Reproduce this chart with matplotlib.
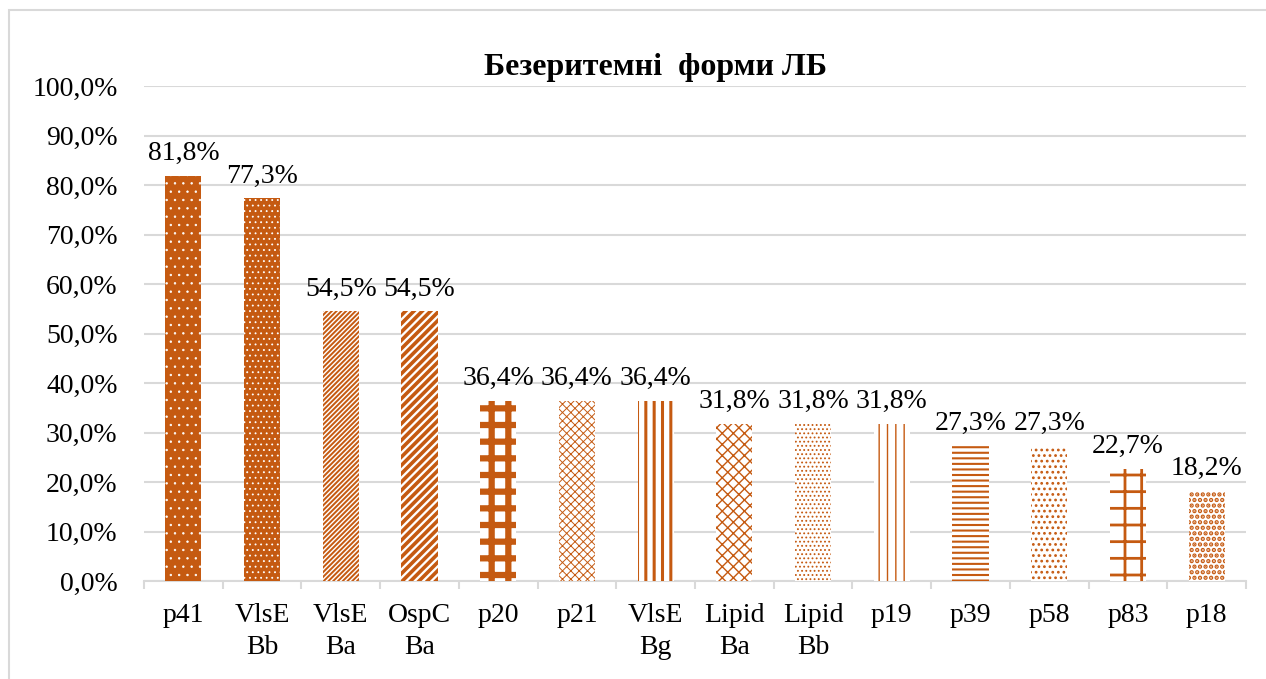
import matplotlib
matplotlib.use("Agg")
import matplotlib.pyplot as plt
from matplotlib.patches import Rectangle
import matplotlib as mpl

categories = ["p41", "VlsE\nBb", "VlsE\nBa", "OspC\nBa", "p20", "p21", "VlsE\nBg",
              "Lipid\nBa", "Lipid\nBb", "p19", "p39", "p58", "p83", "p18"]
values = [81.8, 77.3, 54.5, 54.5, 36.4, 36.4, 36.4, 31.8, 31.8, 31.8, 27.3, 27.3, 22.7, 18.2]
title = "Безеритемні  форми ЛБ"
yticks = [0, 10, 20, 30, 40, 50, 60, 70, 80, 90, 100]

ORANGE = "#C55A11"
GRID = "#D9D9D9"
# (facecolor, hatchcolor, hatch, hatch linewidth)
styles = [
    (ORANGE, "white", "..", 0.5),
    (ORANGE, "white", "...", 0.6),
    ("white", ORANGE, "///////", 1.4),
    ("white", ORANGE, "////", 2.6),
    ("white", ORANGE, "+", 4.5),
    ("white", ORANGE, "xxxx", 0.7),
    ("white", ORANGE, "||", 2.2),
    ("white", ORANGE, "xxx", 1.0),
    ("white", ORANGE, "....", 0.8),
    ("white", ORANGE, "||", 1.0),
    ("white", ORANGE, "---", 1.5),
    ("white", ORANGE, "...", 1.2),
    ("white", ORANGE, "+", 2.0),
    ("white", ORANGE, "...", 2.2),
]

plt.rcParams["font.family"] = ["Liberation Serif", "DejaVu Serif"]

W, H = 1266, 679
fig = plt.figure(figsize=(W / 100, H / 100), dpi=100)
ax = fig.add_axes([144 / W, 1 - 581 / H, (1246 - 144) / W, (581 - 86) / H])

x = list(range(len(categories)))
for i, (v, st) in enumerate(zip(values, styles)):
    fc, hc, hatch, hlw = st
    with mpl.rc_context({"hatch.linewidth": hlw}):
        bars = ax.bar(x[i], v, width=0.46, color=fc, edgecolor=hc, hatch=hatch,
                      linewidth=0, zorder=3)
        for b in bars:
            try:
                b.set_hatch_linewidth(hlw)
            except AttributeError:
                pass
    ax.annotate(f"{v:.1f}%".replace(".", ","), xy=(x[i], v), xytext=(0, 7),
                textcoords="offset points", ha="center", va="bottom", fontsize=20,
                zorder=4)

ax.set_xlim(-0.5, len(categories) - 0.5)
ax.set_ylim(0, 100)
ax.set_yticks(yticks)
ax.set_yticklabels([f"{t:.1f}%".replace(".", ",") for t in yticks], fontsize=20)
ax.set_xticks(x)
ax.set_xticklabels(categories, fontsize=20, linespacing=1.35)
ax.set_xticks([i - 0.5 for i in range(len(categories) + 1)], minor=True)
ax.tick_params(axis="x", which="major", length=0, pad=16)
ax.tick_params(axis="x", which="minor", length=6, color=GRID, width=1.5)
ax.tick_params(axis="y", length=0, pad=19)
ax.grid(axis="y", color=GRID, linewidth=1.5, zorder=0)
for s in ["top", "right", "left"]:
    ax.spines[s].set_visible(False)
ax.spines["bottom"].set_color(GRID)
ax.spines["bottom"].set_linewidth(1.5)

fig.text(656 / W, 1 - 67 / H, title, ha="center", va="center", fontsize=23,
         fontweight="bold")

fig.patches.append(Rectangle((9 / W, -0.1), 1.2, 1.1 - 10 / H, transform=fig.transFigure,
                             fill=False, edgecolor=GRID, linewidth=1.5, zorder=0))

fig.savefig("out.png", dpi=100)
